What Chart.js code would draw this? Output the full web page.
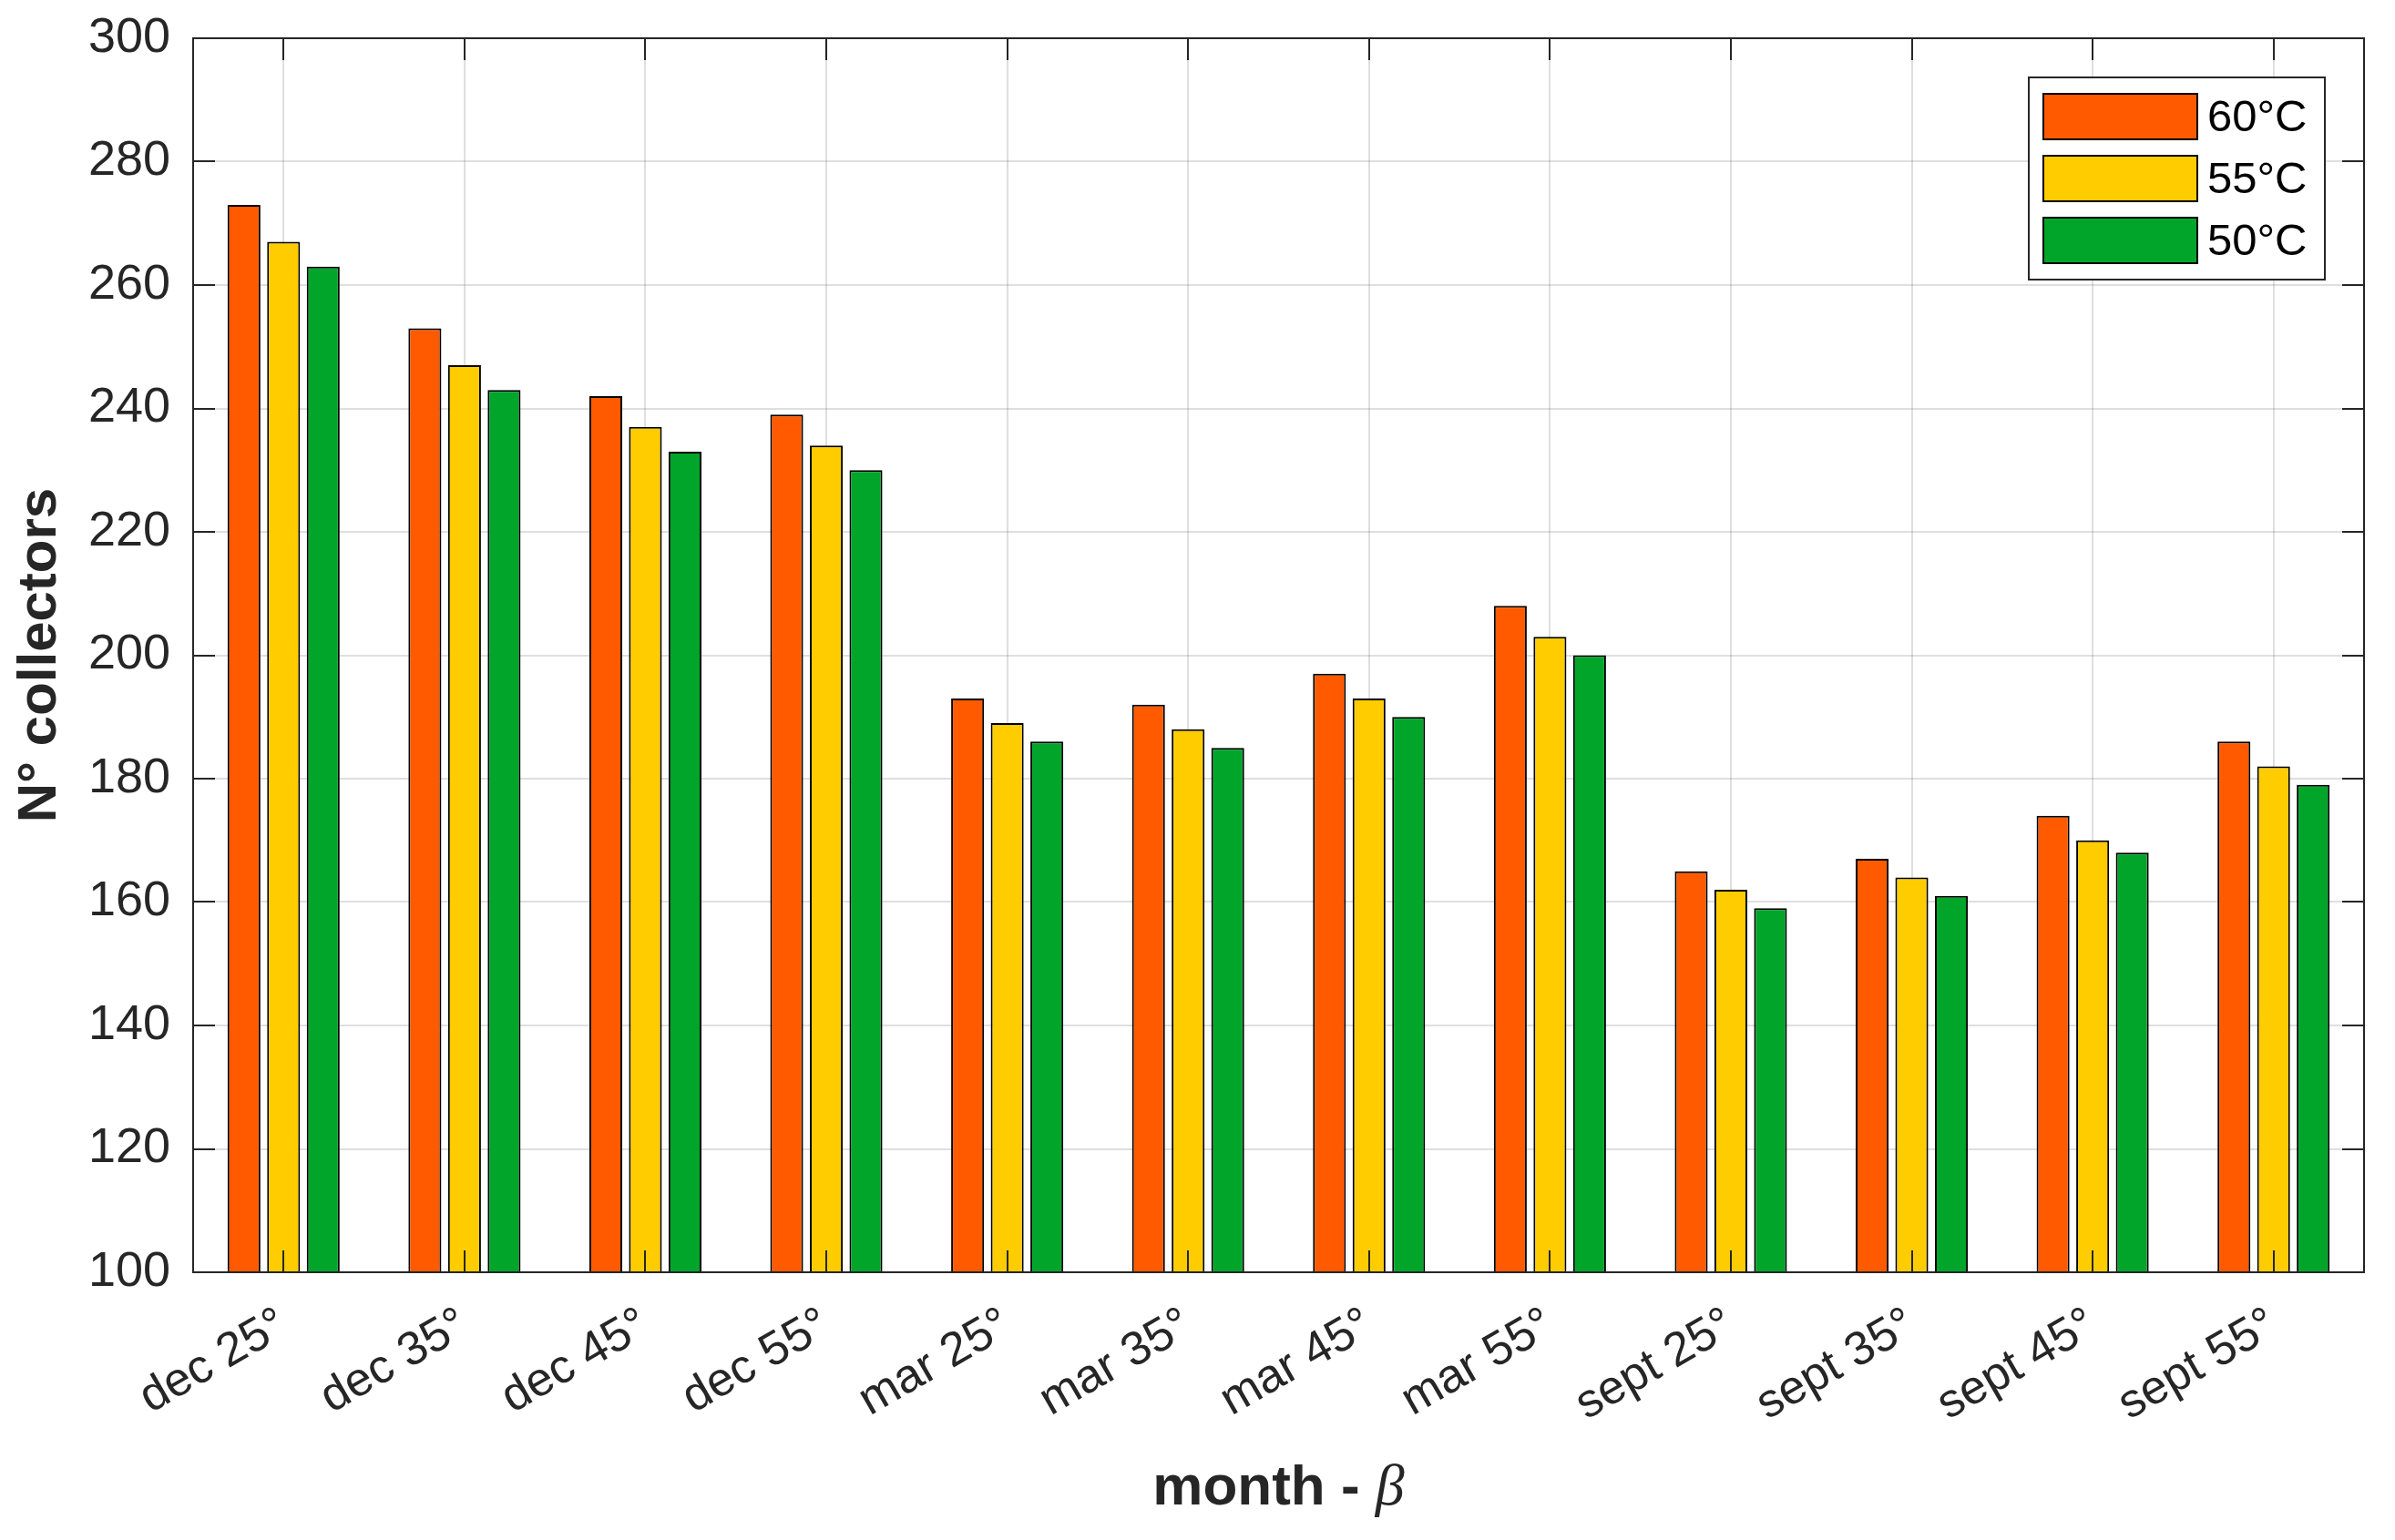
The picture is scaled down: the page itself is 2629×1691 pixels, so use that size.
<!DOCTYPE html>
<html>
<head>
<meta charset="utf-8">
<title>N° collectors</title>
<script src="https://cdn.jsdelivr.net/npm/chart.js@4.4.1/dist/chart.umd.min.js"></script>
<style>
  html, body { margin: 0; padding: 0; background: #fff; }
  canvas { display: block; }
</style>
</head>
<body>
<canvas id="chart" width="2629" height="1691"></canvas>
<script>
// month - tilt angle categories
const categories = [
  'dec 25°', 'dec 35°', 'dec 45°', 'dec 55°',
  'mar 25°', 'mar 35°', 'mar 45°', 'mar 55°',
  'sept 25°', 'sept 35°', 'sept 45°', 'sept 55°'
];
const seriesLabels = ['60°C', '55°C', '50°C'];

// number of collectors per supply temperature
const collectors60 = [273, 253, 242, 239, 193, 192, 197, 208, 165, 167, 174, 186];
const collectors55 = [267, 247, 237, 234, 189, 188, 193, 203, 162, 164, 170, 182];
const collectors50 = [263, 243, 233, 230, 186, 185, 190, 200, 159, 161, 168, 179];

const yMin = 100;
const yMax = 300;
const yStep = 20;

const colors = ['#ff5a00', '#ffcc00', '#00a52a'];
const axisColor = '#262626';

// MATLAB-style box around the axes with inward ticks, drawn over the bars
const axesFrame = {
  id: 'axesFrame',
  afterDatasetsDraw(chart) {
    const { ctx, chartArea: a, scales: { x, y } } = chart;
    const tl = 24;
    ctx.save();
    ctx.strokeStyle = axisColor;
    ctx.lineWidth = 2;
    ctx.beginPath();
    x.ticks.forEach((_, i) => {
      const px = Math.round(x.getPixelForTick(i));
      ctx.moveTo(px, a.bottom); ctx.lineTo(px, a.bottom - tl);
      ctx.moveTo(px, a.top); ctx.lineTo(px, a.top + tl);
    });
    y.ticks.forEach(t => {
      const py = Math.round(y.getPixelForValue(t.value));
      ctx.moveTo(a.left, py); ctx.lineTo(a.left + tl, py);
      ctx.moveTo(a.right, py); ctx.lineTo(a.right - tl, py);
    });
    ctx.stroke();
    ctx.strokeRect(a.left, a.top, a.right - a.left, a.bottom - a.top);
    ctx.restore();
  }
};

// x title with an italic greek beta, like the TeX label
const xTitle = {
  id: 'xTitle',
  afterDraw(chart) {
    const { ctx, chartArea: a } = chart;
    const boldFont = 'bold 62px "Liberation Sans", Arial, sans-serif';
    const betaFont = 'italic 64px "Liberation Serif", "Times New Roman", serif';
    const part1 = 'month - ';
    const part2 = 'β';
    ctx.save();
    ctx.fillStyle = axisColor;
    ctx.textBaseline = 'alphabetic';
    ctx.font = boldFont;
    const w1 = ctx.measureText(part1).width;
    ctx.font = betaFont;
    const w2 = ctx.measureText(part2).width;
    const x0 = (a.left + a.right) / 2 - (w1 + w2) / 2;
    const yb = 1652;
    ctx.font = boldFont;
    ctx.textAlign = 'left';
    ctx.fillText(part1, x0, yb);
    ctx.font = betaFont;
    ctx.fillText(part2, x0 + w1, yb);
    ctx.restore();
  }
};

// boxed legend in the upper right corner of the axes
const boxLegend = {
  id: 'boxLegend',
  afterDraw(chart) {
    const { ctx, chartArea: a } = chart;
    const right = a.right - 43;
    const left = right - 325;
    const top = a.top + 43;
    const height = 222;
    ctx.save();
    ctx.fillStyle = '#fff';
    ctx.fillRect(left, top, right - left, height);
    ctx.strokeStyle = axisColor;
    ctx.lineWidth = 2;
    ctx.strokeRect(left, top, right - left, height);
    ctx.font = '49px "Liberation Sans", Arial, sans-serif';
    ctx.textBaseline = 'middle';
    ctx.textAlign = 'left';
    chart.data.datasets.forEach((ds, i) => {
      const sy = top + 18 + i * 68;
      ctx.fillStyle = ds.backgroundColor;
      ctx.fillRect(left + 16, sy, 169, 50);
      ctx.strokeStyle = '#000';
      ctx.lineWidth = 2;
      ctx.strokeRect(left + 16, sy, 169, 50);
      ctx.fillStyle = '#000';
      ctx.fillText(ds.label, left + 196, sy + 27);
    });
    ctx.restore();
  }
};

const seriesValues = [collectors60, collectors55, collectors50];

new Chart(document.getElementById('chart'), {
  type: 'bar',
  data: {
    labels: categories,
    datasets: seriesValues.map((vals, i) => ({
      label: seriesLabels[i],
      data: vals,
      backgroundColor: colors[i],
      borderColor: '#000',
      borderWidth: 2,
      categoryPercentage: 0.657,
      barPercentage: 0.83
    }))
  },
  options: {
    responsive: false,
    animation: false,
    layout: { padding: { left: 0, top: 42, right: 34, bottom: 0 } },
    plugins: {
      legend: { display: false },
      tooltip: { enabled: false }
    },
    scales: {
      x: {
        grid: {
          offset: false,
          color: 'rgba(38,38,38,0.15)',
          lineWidth: 2,
          drawTicks: true,
          tickLength: 27,
          tickColor: 'rgba(0,0,0,0)'
        },
        border: { display: false },
        ticks: {
          autoSkip: false,
          minRotation: 30,
          maxRotation: 30,
          padding: 0,
          color: axisColor,
          font: { family: '"Liberation Sans", Arial, sans-serif', size: 52 }
        },
        afterFit(scale) { scale.height = 294; }
      },
      y: {
        min: yMin,
        max: yMax,
        grid: {
          color: 'rgba(38,38,38,0.15)',
          lineWidth: 2,
          drawTicks: true,
          tickLength: 25,
          tickColor: 'rgba(0,0,0,0)'
        },
        border: { display: false },
        ticks: {
          stepSize: yStep,
          padding: 0,
          color: axisColor,
          font: { family: '"Liberation Sans", Arial, sans-serif', size: 54 }
        },
        title: {
          display: true,
          text: 'N° collectors',
          color: axisColor,
          padding: { top: 8, bottom: 0 },
          font: { family: '"Liberation Sans", Arial, sans-serif', size: 60, weight: 'bold' }
        },
        afterFit(scale) { scale.width = 212; }
      }
    }
  },
  plugins: [axesFrame, xTitle, boxLegend]
});
</script>
</body>
</html>
